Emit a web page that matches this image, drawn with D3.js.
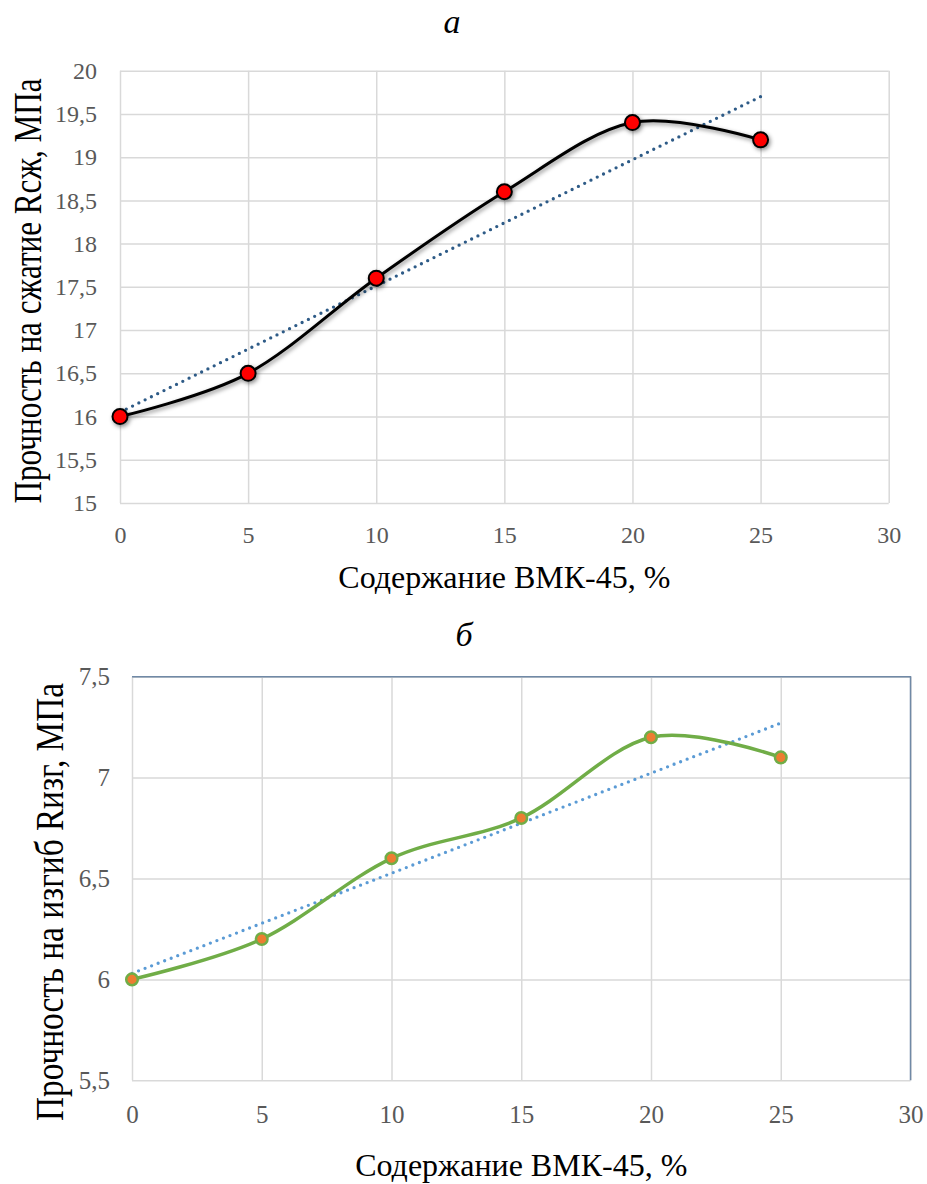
<!doctype html>
<html>
<head>
<meta charset="utf-8">
<title>Прочность — ВМК-45</title>
<style>
  body { margin:0; background:#fff; }
  svg { display:block; }
  svg text { font-family:"Liberation Serif","DejaVu Serif",serif; }
  .grid line { stroke:#d9d9d9; stroke-width:1.5px; }
  .grid path { display:none; }
  .tick text { fill:#595959; }
</style>
<script src="https://cdn.jsdelivr.net/npm/d3@7"></script>
</head>
<body>
<svg id="chart" width="927" height="1184"></svg>
<script>
// данные
var dosage = [0, 5, 10, 15, 20, 25]
var compressive = [16, 16.5, 17.6, 18.6, 19.4, 19.2]
var flexural = [6, 6.2, 6.6, 6.8, 7.2, 7.1]
// линии тренда (значения при 0 и 25 %)
var trendX = [0, 25]
var trendCompressive = [16.05, 19.7]
var trendFlexural = [6.03, 7.27]
// подписи осей
var xTicks = [0, 5, 10, 15, 20, 25, 30]
var yTicksA = [15, 15.5, 16, 16.5, 17, 17.5, 18, 18.5, 19, 19.5, 20]
var yTicksB = [5.5, 6, 6.5, 7, 7.5]
var xTitle = "Содержание ВМК-45, %"
var yTitleA = "Прочность на сжатие Rсж, МПа"
var yTitleB = "Прочность на изгиб Rизг, МПа"

var svg = d3.select("#chart")
var fmt = function(d){ return String(d).replace(".", ",") }

// тень для графика а
var f = svg.append("defs").append("filter").attr("id", "shadow")
  .attr("x", "-20%").attr("y", "-20%").attr("width", "140%").attr("height", "140%")
f.append("feDropShadow").attr("dx", 1.5).attr("dy", 2).attr("stdDeviation", 2)
  .attr("flood-color", "#000").attr("flood-opacity", 0.45)

function drawChart(o) {
  var w = o.x1 - o.x0, h = o.y1 - o.y0
  var x = d3.scaleLinear().domain([0, 30]).range([o.x0, o.x1])
  var y = d3.scaleLinear().domain(o.yDomain).range([o.y1, o.y0])
  var g = svg.append("g")

  g.append("g").attr("class", "grid")
    .attr("transform", "translate(" + o.x0 + ",0)")
    .call(d3.axisLeft(y).tickValues(o.yTicks).tickSize(-w).tickPadding(o.yPad).tickFormat(fmt))
    .attr("font-family", null).attr("font-size", o.tickFont)

  g.append("g").attr("class", "grid")
    .attr("transform", "translate(0," + o.y1 + ")")
    .call(d3.axisBottom(x).tickValues(xTicks).tickSize(-h).tickPadding(o.xPad))
    .attr("font-family", null).attr("font-size", o.tickFont)

  if (o.frame) {
    g.append("path")
      .attr("d", "M" + o.x0 + "," + o.y0 + "H" + o.x1 + "V" + o.y1)
      .attr("fill", "none").attr("stroke", o.frame).attr("stroke-width", 1.5)
  }

  // линия тренда
  var pts = trendX.map(function(d, i){ return [d, o.trend[i]] })
  g.append("path")
    .attr("d", d3.line().x(function(d){ return x(d[0]) }).y(function(d){ return y(d[1]) })(pts))
    .attr("fill", "none").attr("stroke", o.trendColor).attr("stroke-width", 3.3)
    .attr("stroke-linecap", "round").attr("stroke-dasharray", "0 7")

  var series = dosage.map(function(d, i){ return [d, o.values[i]] })
  var lg = g.append("g")
  if (o.shadow) lg.attr("filter", "url(#shadow)")
  lg.append("path")
    .attr("d", d3.line().curve(d3.curveCardinal.tension(0))
      .x(function(d){ return x(d[0]) }).y(function(d){ return y(d[1]) })(series))
    .attr("fill", "none").attr("stroke", o.lineColor).attr("stroke-width", o.lineWidth)

  lg.selectAll("circle").data(series).enter().append("circle")
    .attr("cx", function(d){ return x(d[0]) })
    .attr("cy", function(d){ return y(d[1]) })
    .attr("r", o.r)
    .attr("fill", o.markFill).attr("stroke", o.markStroke).attr("stroke-width", o.markStrokeW)

  // подписи
  g.append("text").attr("x", o.title[1]).attr("y", o.title[2])
    .attr("text-anchor", "middle").style("font-size", "34px").style("font-style", "italic")
    .text(o.title[0])

  g.append("text").attr("x", (o.x0 + o.x1) / 2).attr("y", o.xTitleY)
    .attr("text-anchor", "middle").style("font-size", "32px").text(xTitle)

  // вертикальная подпись: узкий высокий шрифт, как в оригинале
  g.append("text")
    .attr("transform", "translate(" + o.yTitle[1] + "," + o.yTitle[2] + ") rotate(-90) scale(1,1.4)")
    .attr("text-anchor", "middle").style("font-size", "29px")
    .attr("textLength", o.yTitle[3]).attr("lengthAdjust", "spacingAndGlyphs")
    .text(o.yTitle[0])
}

drawChart({
  x0: 120, x1: 888.7, y0: 70.7, y1: 503,
  yDomain: [15, 20], yTicks: yTicksA,
  tickFont: 24, yPad: 23, xPad: 23,
  values: compressive, trend: trendCompressive,
  trendColor: "#2e5b87", lineColor: "#000", lineWidth: 3,
  r: 7.5, markFill: "#ff0000", markStroke: "#000", markStrokeW: 2, shadow: true,
  title: ["а", 452, 33], xTitleY: 588,
  yTitle: [yTitleA, 41, 291, 425]
})

drawChart({
  x0: 132, x1: 910.5, y0: 676.7, y1: 1080.3,
  yDomain: [5.5, 7.5], yTicks: yTicksB,
  tickFont: 25, yPad: 22, xPad: 25,
  values: flexural, trend: trendFlexural,
  trendColor: "#5b9bd5", lineColor: "#70ad47", lineWidth: 3.5,
  r: 5.8, markFill: "#ed7d31", markStroke: "#70ad47", markStrokeW: 2.5, shadow: false,
  frame: "#7089a6",
  title: ["б", 464, 646], xTitleY: 1176,
  yTitle: [yTitleB, 63, 902, 438]
})
</script>
</body>
</html>
